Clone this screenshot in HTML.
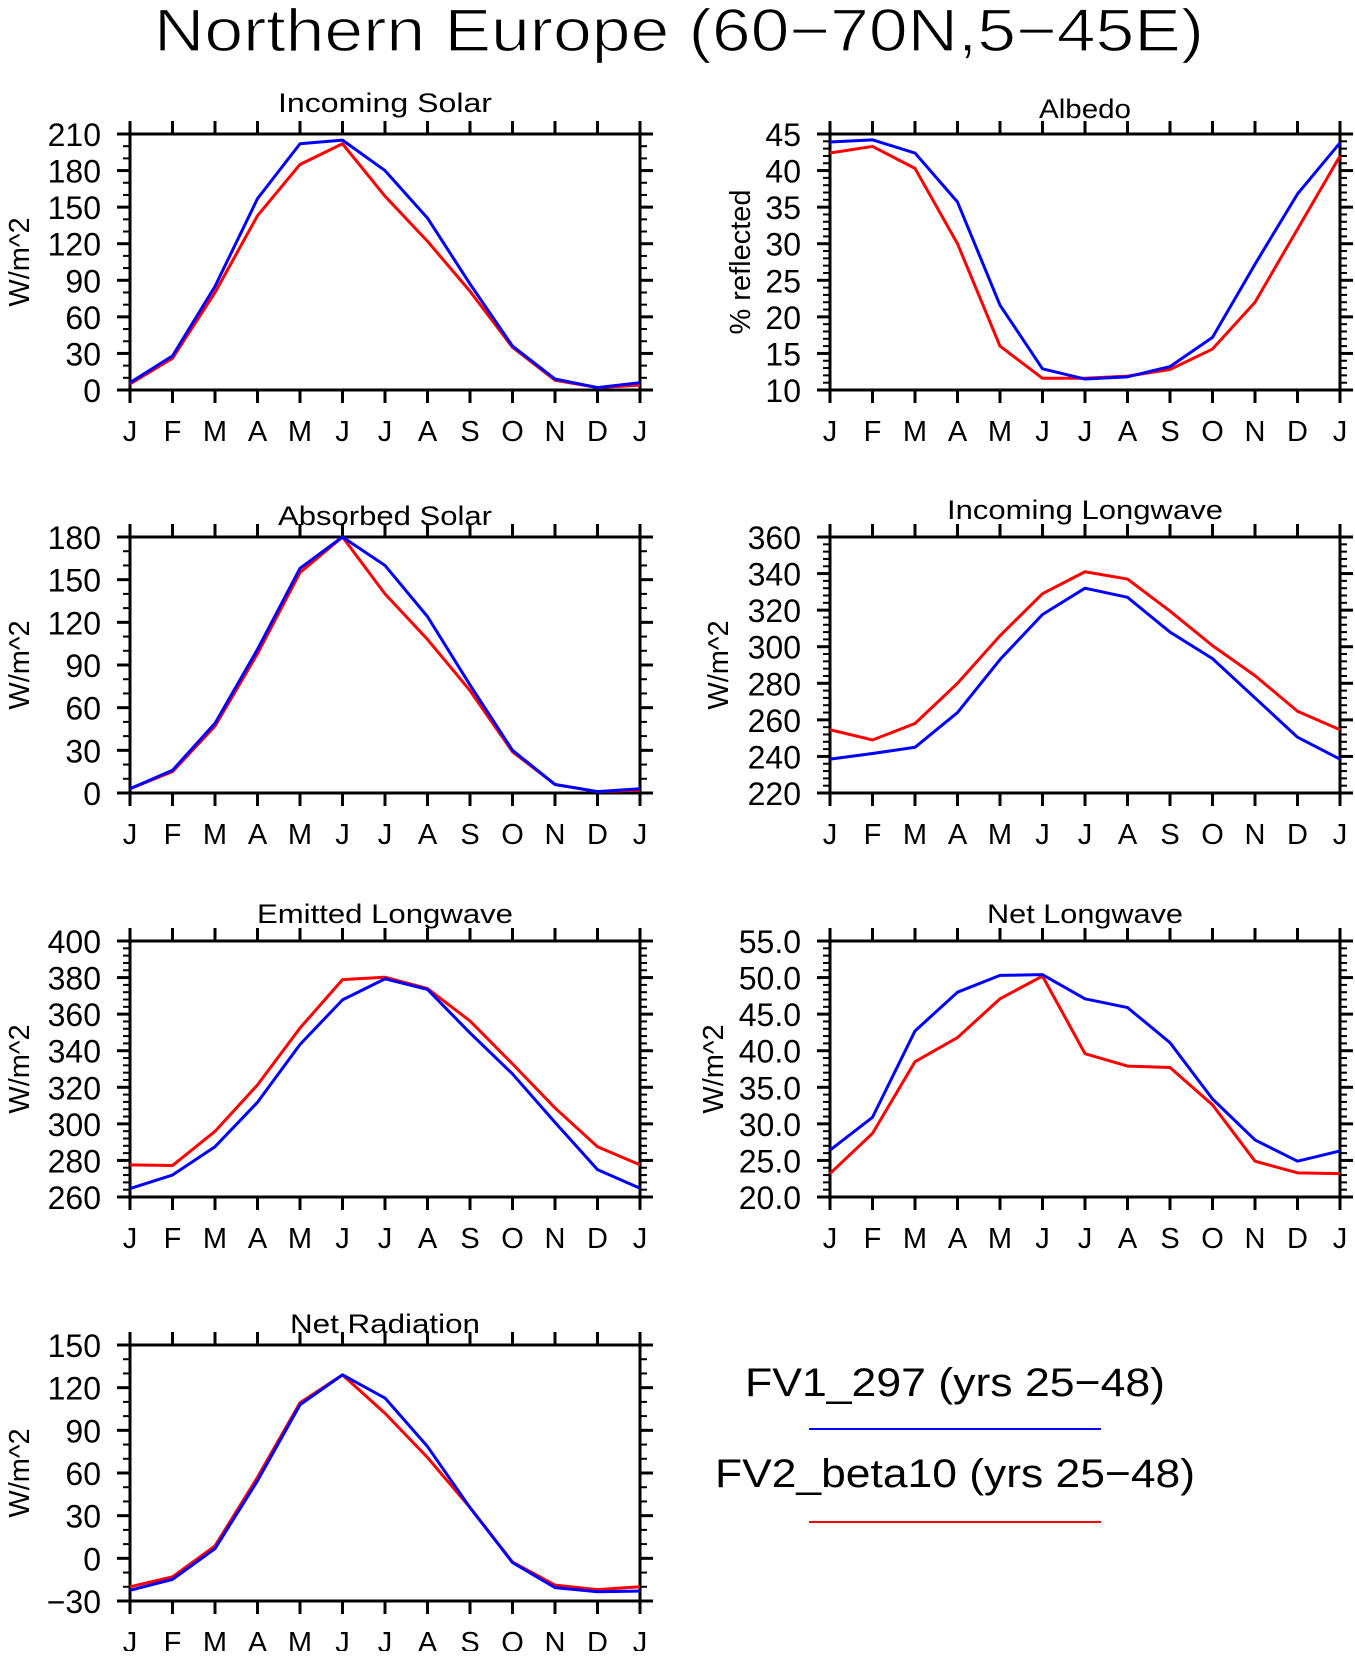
<!DOCTYPE html>
<html><head><meta charset="utf-8"><style>
html,body{margin:0;padding:0;background:#fff}
svg text{font-family:"Liberation Sans",sans-serif;fill:#000}
</style></head><body>
<svg id="chart" width="1355" height="1651" viewBox="0 0 1355 1651" xmlns="http://www.w3.org/2000/svg">
<text x="679" y="51" font-size="60" text-anchor="middle" textLength="1050" lengthAdjust="spacingAndGlyphs" stroke="#fff" stroke-width="1.2">Northern Europe (60−70N,5−45E)</text>
<g id="legend">
<text x="955" y="1396" font-size="40" text-anchor="middle" textLength="420" lengthAdjust="spacingAndGlyphs">FV1_297 (yrs 25−48)</text>
<line x1="809" y1="1429" x2="1101" y2="1429" stroke="#0000ff" stroke-width="2"/>
<text x="955" y="1487" font-size="40" text-anchor="middle" textLength="480" lengthAdjust="spacingAndGlyphs">FV2_beta10 (yrs 25−48)</text>
<line x1="809" y1="1522" x2="1101" y2="1522" stroke="#ff0000" stroke-width="2"/>
</g>
</svg>
<script>
const months = ["J","F","M","A","M","J","J","A","S","O","N","D","J"];
const solarIn_fv1 = [6,28,85,157,202,205,180,141,87,36,9,2,6];
const solarIn_fv2 = [5,26,80,143,185,202,159,122,81,35,8,2,4];
const albedo_fv1 = [43.9,44.2,42.4,35.7,21.6,12.9,11.5,11.8,13.2,17.2,27.2,36.8,43.8];
const albedo_fv2 = [42.4,43.3,40.3,30.0,16.0,11.6,11.6,11.9,12.8,15.6,22.0,32.0,42.0];
const absSolar_fv1 = [3,16,49,101,158,180,160,124,76,30,6,1,3];
const absSolar_fv2 = [3,15,47,98,155,180,140,108,72,29,6,1,2];
const lwIn_fv1 = [238.5,241.6,245,264,293,317.6,332,327,308,293.5,272,250.5,238.5];
const lwIn_fv2 = [254.6,249,258,280,306,329,341,337,319.5,300.6,284.2,264.7,254.6];
const lwOut_fv1 = [264.6,272,287.5,311.8,343.4,367.8,379.3,373.5,349.7,327.3,300.8,275,264.8];
const lwOut_fv2 = [277.6,277.2,295.9,321.3,352.4,378.9,380.2,374,356.3,332.8,308.7,287.5,277.6];
const lwNet_fv1 = [26.4,30.9,42.7,48,50.3,50.4,47.1,45.9,41.1,33.4,27.8,24.9,26.3];
const lwNet_fv2 = [23.2,28.7,38.5,41.8,47.1,50.2,39.6,37.9,37.7,32.6,24.9,23.3,23.2];
const netRad_fv1 = [-22.5,-14.8,6.8,54.5,108,129,112.7,78.6,35.7,-3,-20.6,-23.5,-23];
const netRad_fv2 = [-20,-13,8.7,57,109.4,129,102,70.9,35.7,-2.6,-18.8,-22,-20];
const ticks_solarIn = ["0","30","60","90","120","150","180","210"];
const ticks_albedo = ["10","15","20","25","30","35","40","45"];
const ticks_absSolar = ["0","30","60","90","120","150","180"];
const ticks_lwIn = ["220","240","260","280","300","320","340","360"];
const ticks_lwOut = ["260","280","300","320","340","360","380","400"];
const ticks_lwNet = ["20.0","25.0","30.0","35.0","40.0","45.0","50.0","55.0"];
const ticks_netRad = ["−30","0","30","60","90","120","150"];

const NS="http://www.w3.org/2000/svg";
const svg=document.getElementById('chart');
function mk(tag,attrs,parent){const e=document.createElementNS(NS,tag);for(const k in attrs)e.setAttribute(k,attrs[k]);parent.appendChild(e);return e;}
function num(s){return parseFloat(s.replace('−','-'));}

const plots=[
 {key:'incoming-solar',title:'Incoming Solar',ylab:'W/m^2',x:130,y:134,ticks:ticks_solarIn,minor:2,s1:solarIn_fv1,s2:solarIn_fv2,tdy:-22,tw:214,ylx:20},
 {key:'albedo',title:'Albedo',ylab:'% reflected',x:830,y:134,ticks:ticks_albedo,minor:4,s1:albedo_fv1,s2:albedo_fv2,tdy:-16,tw:92,ylx:741},
 {key:'absorbed-solar',title:'Absorbed Solar',ylab:'W/m^2',x:130,y:537,ticks:ticks_absSolar,minor:2,s1:absSolar_fv1,s2:absSolar_fv2,tdy:-12,tw:214,ylx:20},
 {key:'incoming-longwave',title:'Incoming Longwave',ylab:'W/m^2',x:830,y:537,ticks:ticks_lwIn,minor:4,s1:lwIn_fv1,s2:lwIn_fv2,tdy:-18,tw:276,ylx:719},
 {key:'emitted-longwave',title:'Emitted Longwave',ylab:'W/m^2',x:130,y:941,ticks:ticks_lwOut,minor:4,s1:lwOut_fv1,s2:lwOut_fv2,tdy:-18,tw:256,ylx:20},
 {key:'net-longwave',title:'Net Longwave',ylab:'W/m^2',x:830,y:941,ticks:ticks_lwNet,minor:4,s1:lwNet_fv1,s2:lwNet_fv2,tdy:-18,tw:196,ylx:714},
 {key:'net-radiation',title:'Net Radiation',ylab:'W/m^2',x:130,y:1345,ticks:ticks_netRad,minor:2,s1:netRad_fv1,s2:netRad_fv2,tdy:-12,tw:190,ylx:20}
];
const W=510,H=256;
plots.forEach(p=>{
  const g=mk('g',{},svg);
  
  
  const lo=num(p.ticks[0]),hi=num(p.ticks[p.ticks.length-1]);
  const xs=i=>p.x+W*i/(months.length-1);
  const ys=v=>p.y+H*(hi-v)/(hi-lo);
  const t=mk('text',{x:p.x+W/2,y:p.y+p.tdy,'font-size':27,'text-anchor':'middle',textLength:p.tw,lengthAdjust:'spacingAndGlyphs'},g);
  
  
  t.textContent=p.title;
  const yl=mk('text',{x:p.ylx,y:p.y+H/2,'font-size':29,'text-anchor':'middle',transform:`rotate(-90 ${p.ylx} ${p.y+H/2})`,'dominant-baseline':'central'},g);
  
  
  yl.textContent=p.ylab;
  const step=(hi-lo)/(p.ticks.length-1);
  p.ticks.forEach((lab,i)=>{
    const v=num(lab),yy=ys(v);
    mk('line',{x1:p.x-13,y1:yy,x2:p.x,y2:yy,stroke:'#000','stroke-width':3},g);
    mk('line',{x1:p.x+W,y1:yy,x2:p.x+W+13,y2:yy,stroke:'#000','stroke-width':3},g);
    const tl=mk('text',{x:p.x-29,y:yy+12,'font-size':32,'text-anchor':'end'},g);
    
    
    tl.textContent=lab;
    if(i<p.ticks.length-1){
      for(let m=1;m<=p.minor;m++){
        const my=ys(v+step*m/(p.minor+1));
        mk('line',{x1:p.x-7,y1:my,x2:p.x,y2:my,stroke:'#000','stroke-width':2},g);
        mk('line',{x1:p.x+W,y1:my,x2:p.x+W+7,y2:my,stroke:'#000','stroke-width':2},g);
      }
    }
  });
  months.forEach((m,i)=>{
    const xx=xs(i);
    mk('line',{x1:xx,y1:p.y-13,x2:xx,y2:p.y,stroke:'#000','stroke-width':3},g);
    mk('line',{x1:xx,y1:p.y+H,x2:xx,y2:p.y+H+13,stroke:'#000','stroke-width':3},g);
    const ml=mk('text',{x:xx,y:p.y+H+51,'font-size':29,'text-anchor':'middle'},g);
    
    
    ml.textContent=m;
  });
  const fr=mk('rect',{x:p.x,y:p.y,width:W,height:H,fill:'none',stroke:'#000','stroke-width':3},g);
  
  
  const l2=mk('polyline',{points:p.s2.map((v,i)=>xs(i)+','+ys(v)).join(' '),fill:'none',stroke:'#ff0000','stroke-width':3,'stroke-linejoin':'round'},g);
  
  
  const l1=mk('polyline',{points:p.s1.map((v,i)=>xs(i)+','+ys(v)).join(' '),fill:'none',stroke:'#0000ff','stroke-width':3,'stroke-linejoin':'round'},g);
  
  
});
</script>
</body></html>
